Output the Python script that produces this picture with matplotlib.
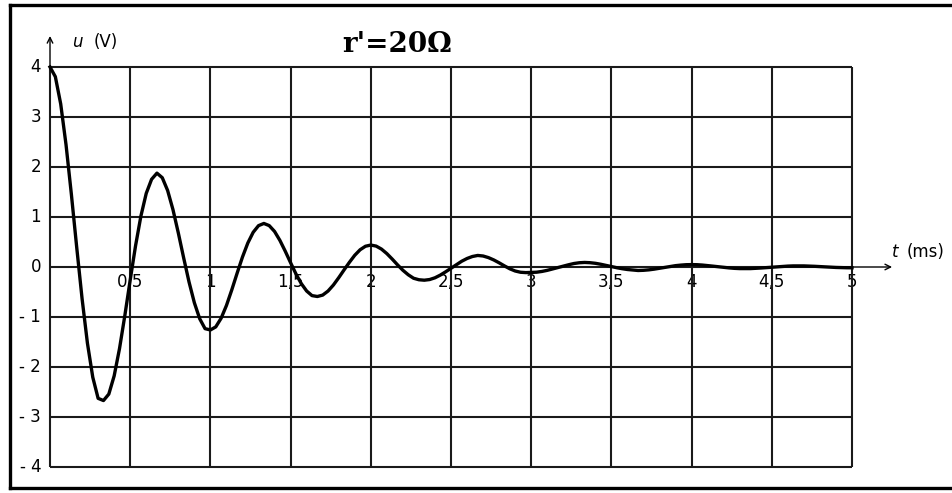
import matplotlib.pyplot as plt
import numpy as np
from matplotlib.lines import Line2D

# u(t), one sample every 1/30 ms from t = 0 to 5 ms
u = [
    4.000, 3.806, 3.262, 2.444, 1.451, 0.389, -0.634, -1.524, -2.205, -2.627,
    -2.671, -2.542, -2.178, -1.632, -0.969, -0.260, 0.424, 1.018, 1.473, 1.754,
    1.877, 1.786, 1.530, 1.147, 0.681, 0.182, -0.298, -0.715, -1.035, -1.233,
    -1.259, -1.198, -1.026, -0.770, -0.457, -0.123, 0.200, 0.480, 0.694, 0.827,
    0.871, 0.828, 0.711, 0.532, 0.316, 0.085, -0.138, -0.332, -0.480, -0.572,
    -0.590, -0.562, -0.481, -0.361, -0.214, -0.058, 0.094, 0.235, 0.345, 0.415,
    0.439, 0.418, 0.358, 0.268, 0.159, 0.043, -0.065, -0.155, -0.225, -0.255,
    -0.264, -0.251, -0.216, -0.162, -0.096, -0.026, 0.045, 0.115, 0.170, 0.210,
    0.231, 0.220, 0.188, 0.141, 0.084, 0.022, -0.036, -0.080, -0.105, -0.112,
    -0.109, -0.104, -0.089, -0.067, -0.040, -0.011, 0.017, 0.045, 0.070, 0.085,
    0.091, 0.086, 0.074, 0.055, 0.033, 0.009, -0.014, -0.034, -0.050, -0.059,
    -0.070, -0.066, -0.057, -0.043, -0.025, -0.007, 0.011, 0.027, 0.038, 0.046,
    0.048, 0.046, 0.039, 0.029, 0.017, 0.005, -0.008, -0.018, -0.027, -0.032,
    -0.033, -0.032, -0.027, -0.020, -0.012, -0.003, 0.005, 0.013, 0.018, 0.022,
    0.023, 0.022, 0.019, 0.014, 0.008, 0.002, -0.004, -0.009, -0.013, -0.015,
    -0.016,
]
dt = 1 / 30
t = np.arange(len(u)) * dt

x_grid = [0, 0.5, 1, 1.5, 2, 2.5, 3, 3.5, 4, 4.5, 5]
x_ticks = [0.5, 1, 1.5, 2, 2.5, 3, 3.5, 4, 4.5, 5]
x_labels = ["0,5", "1", "1,5", "2", "2,5", "3", "3,5", "4", "4,5", "5"]
y_ticks = [4, 3, 2, 1, 0, -1, -2, -3, -4]
y_labels = ["4", "3", "2", "1", "0", "- 1", "- 2", "- 3", "- 4"]
title = "r'=20\u03a9"

W, H = 953, 493
px_t = 802 / 5  # pixels per ms
px_u = 50       # pixels per volt
x0, y0 = 50, 67  # pixel of (t=0, u=4)

fig = plt.figure(figsize=(W / 100, H / 100), dpi=100)
ax = fig.add_axes([0, 0, 1, 1])
ax.set_xlim(-x0 / px_t, (W - x0) / px_t)
ax.set_ylim(4 - (H - y0) / px_u, 4 + y0 / px_u)
ax.axis("off")

# grid
ax.vlines(x_grid, -4, 4, color="#1a1a1a", lw=1.5, zorder=2)
ax.hlines(y_ticks, 0, 5, color="#1a1a1a", lw=1.5, zorder=2)

# axis arrows
arrow = dict(arrowstyle="->", lw=1.0, color="black", shrinkA=0, shrinkB=0)
ax.annotate("", xy=(0, 4.62), xytext=(0, 4), arrowprops=arrow)
ax.annotate("", xy=(5.25, 0), xytext=(5, 0), arrowprops=arrow)

# curve
ax.plot(t, u, color="black", lw=2.4, zorder=3, solid_joinstyle="round")

# tick labels (sit under the grid lines like the original)
for x, lab in zip(x_ticks, x_labels):
    ax.text(x, -0.3, lab, ha="center", va="center", fontsize=12,
            family="DejaVu Sans", zorder=1)
for y, lab in zip(y_ticks, y_labels):
    ax.text(-0.055, y, lab, ha="right", va="center", fontsize=12,
            family="DejaVu Sans", zorder=1)

# axis names
ax.text(0.14, 4.5, "u", style="italic", ha="left", va="center", fontsize=12)
ax.text(0.275, 4.5, "(V)", ha="left", va="center", fontsize=12)
ax.text(5.25, 0.3, "t", style="italic", ha="left", va="center", fontsize=12)
ax.text(5.34, 0.3, "(ms)", ha="left", va="center", fontsize=12)

ax.text(2.165, 4.44, title, ha="center", va="center", fontsize=20,
        fontweight="bold", family="DejaVu Serif")

# outer frame (left, top, bottom)
fx = lambda p: p / W
fy = lambda p: 1 - p / H
for xs, ys in [([10, W], [5, 5]), ([10, 10], [5, 488]), ([10, W], [488, 488])]:
    fig.add_artist(Line2D([fx(v) for v in xs], [fy(v) for v in ys],
                          color="black", lw=2.4, transform=fig.transFigure))

fig.savefig("out.png", dpi=100)
